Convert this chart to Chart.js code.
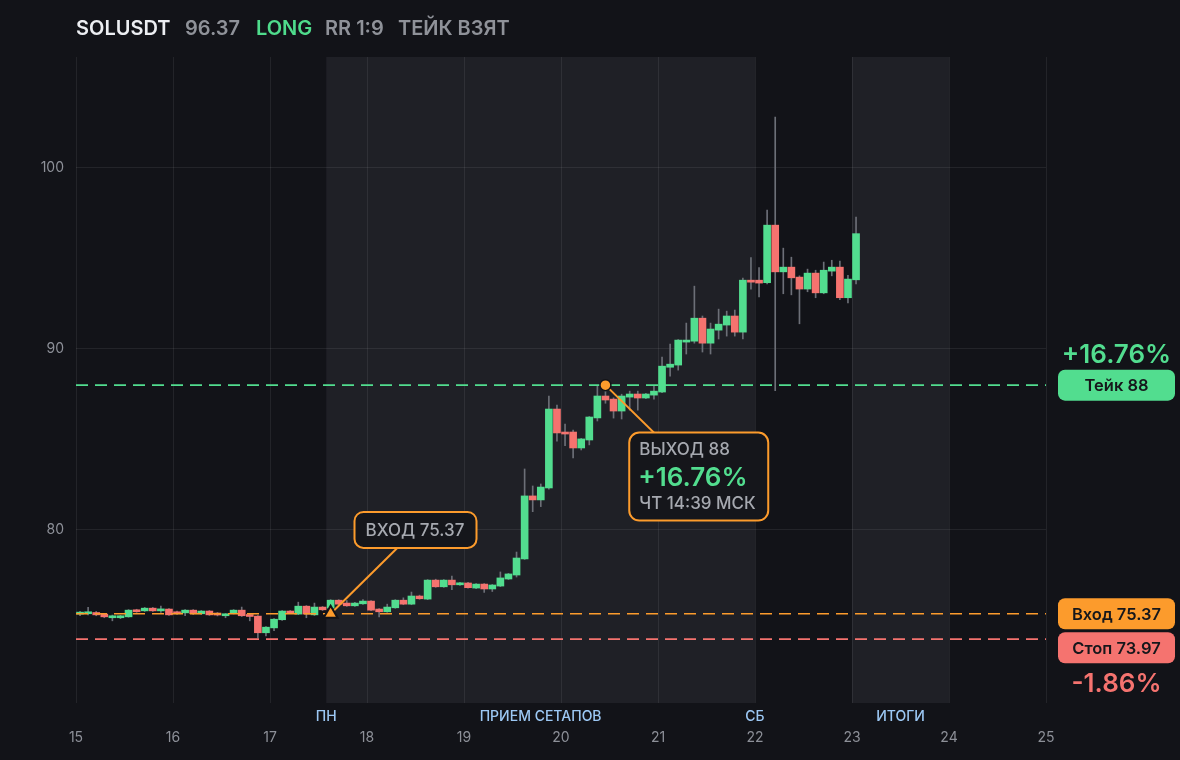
<!DOCTYPE html>
<html><head><meta charset="utf-8">
<script src="https://cdn.jsdelivr.net/npm/chart.js@4.4.1/dist/chart.umd.min.js"></script>
<style>
html,body{margin:0;padding:0;background:#121318;width:1180px;height:760px;overflow:hidden}
#wrap{position:relative;width:1180px;height:760px}
canvas{position:absolute;left:0;top:0}
.h{position:absolute;top:17px;line-height:22px;font-family:Inter,sans-serif;font-weight:600;font-size:20px;white-space:nowrap}
</style></head>
<body><div id="wrap"><canvas id="c" width="1180" height="760"></canvas><div id="hdr"></div></div>
<script>
// ---- header ----
const headerTexts = ['SOLUSDT','96.37','LONG','RR 1:9','ТЕЙК ВЗЯТ'];
const headerColors = ['#eceef2','#8f9299','#4fdc8c','#8f9299','#8f9299'];
const headerX = [76,185,256,325,398];

// ---- trade levels ----
const takePrice = 88, entryPrice = 75.37, stopPrice = 73.97;
const takePct = '+16.76%', stopPct = '-1.86%';
const entryTime = 17.625, exitTime = 20.458;
const entryBoxAt = {x:18.5, y:80};
const exitBoxAt = {x:21.42, y:82.95};

// ---- axis ----
const dayTicks = [15,16,17,18,19,20,21,22,23,24,25];
const yTicks = [80,90,100];
const bands = [[17.58,22],[23,24]];
const bandLabels = [['ПН',17.58],['ПРИЕМ СЕТАПОВ',19.79],['СБ',22],['ИТОГИ',23.5]];

// ---- candles (2h, starting day 15) ----
const startDay = 15, stepDays = 1/12;
const opens = [75.35,75.37,75.44,75.35,75.15,75.15,75.20,75.57,75.53,75.68,75.53,75.63,75.48,75.42,75.57,75.37,75.52,75.41,75.26,75.39,
75.57,75.31,75.24,74.32,74.59,75.04,75.52,75.35,75.79,75.31,75.74,75.68,76.12,75.96,75.81,75.92,76.07,75.63,75.48,75.70,
76.12,75.90,76.35,76.18,77.23,76.86,77.23,76.97,77.07,76.79,77.01,76.74,76.90,77.29,77.51,78.40,81.88,81.66,82.32,86.68,
85.41,85.41,84.53,84.97,86.19,87.40,87.23,86.57,87.34,87.51,87.29,87.45,87.62,88.99,89.11,90.38,90.43,91.70,90.32,91.04,
91.32,91.82,90.93,93.80,93.80,93.66,96.84,94.26,94.52,93.97,93.31,94.19,93.10,94.30,94.52,92.83,93.82];
const highs = [75.50,75.72,75.50,75.38,75.30,75.28,75.60,75.62,75.72,75.72,75.79,75.66,75.52,75.60,75.60,75.55,75.55,75.44,75.38,75.60,
75.74,75.34,75.27,74.66,75.10,75.55,75.55,76.01,75.82,75.96,75.77,76.15,76.15,76.10,76.00,76.15,76.10,75.66,75.90,76.15,
76.25,76.57,76.40,77.26,77.28,77.26,77.45,77.10,77.10,77.04,77.04,76.99,77.68,77.60,78.78,83.37,82.43,82.54,87.40,86.90,
85.85,85.52,85.06,86.27,87.95,88.00,87.30,87.50,87.67,87.67,87.55,87.95,89.55,90.27,90.52,91.43,93.47,91.82,91.43,92.20,
92.09,92.15,93.92,95.05,94.50,97.67,102.81,95.57,95.07,94.04,94.41,94.35,94.80,94.90,94.85,94.07,97.28];
const lows = [75.26,75.30,75.26,75.15,74.98,75.10,75.18,75.45,75.50,75.50,75.44,75.28,75.34,75.26,75.33,75.34,75.28,75.25,75.15,75.36,
75.22,74.98,74.04,74.15,74.43,75.00,75.38,75.32,75.15,75.28,75.55,75.60,75.87,75.78,75.78,75.89,75.54,75.20,75.45,75.67,
75.87,75.87,76.17,76.15,76.83,76.83,76.70,76.94,76.78,76.75,76.55,76.60,76.87,77.26,77.40,78.37,81.01,81.29,82.25,84.91,
84.66,83.98,84.42,84.70,86.02,87.00,86.18,86.13,86.62,86.62,87.25,87.23,87.58,88.50,88.83,89.72,90.32,89.83,89.72,90.55,
90.71,90.71,90.55,93.31,92.88,93.60,87.69,93.05,92.99,91.39,93.16,92.83,93.05,94.04,92.72,92.55,93.60];
const closes = [75.44,75.44,75.31,75.20,75.26,75.26,75.57,75.48,75.68,75.53,75.63,75.31,75.37,75.57,75.37,75.52,75.31,75.30,75.35,75.57,
75.26,75.22,74.32,74.63,75.07,75.52,75.41,75.79,75.35,75.74,75.59,76.12,75.90,75.81,75.96,76.07,75.57,75.48,75.74,76.12,
75.90,76.35,76.20,77.23,76.86,77.23,76.97,77.08,76.81,77.01,76.74,76.96,77.35,77.57,78.45,81.88,81.66,82.37,86.68,85.36,
85.30,84.53,85.03,86.24,87.40,87.18,86.57,87.40,87.51,87.29,87.51,87.67,89.05,89.16,90.49,90.49,91.70,90.32,91.10,91.37,
91.82,90.93,93.80,93.69,93.64,96.84,94.26,94.52,93.93,93.31,94.19,93.10,94.35,94.52,92.83,93.86,96.37];

const GREEN = '#52dd8f', RED = '#f5736f', ORANGE = '#fc9b2c', BG = '#121318', BAND = '#1f2026';
const GRID = 'rgba(255,255,255,0.075)';
const FONT = 'Inter, "Noto Sans", sans-serif';

// header
const hdr = document.getElementById('hdr');
headerTexts.forEach((t,i)=>{const s=document.createElement('span');s.className='h';s.textContent=t;s.style.left=headerX[i]+'px';s.style.color=headerColors[i];hdr.appendChild(s);});

const times = opens.map((_,i)=> startDay + (i+0.5)*stepDays);
const wickData = times.map((t,i)=>({x:t, y:[lows[i], highs[i]]}));
const bodyData = times.map((t,i)=>({x:t, y:[opens[i], closes[i]]}));
const bodyColors = opens.map((o,i)=> closes[i] >= o ? GREEN : RED);

function hline(v,color){
  return {type:'line', data:[{x:dayTicks[0],y:v},{x:dayTicks[dayTicks.length-1],y:v}], borderColor:color, borderWidth:1.6,
    borderDash:[12,7], pointRadius:0, order:3};
}

function rr(ctx,x,y,w,h,r){ctx.beginPath();ctx.moveTo(x+r,y);ctx.arcTo(x+w,y,x+w,y+h,r);ctx.arcTo(x+w,y+h,x,y+h,r);ctx.arcTo(x,y+h,x,y,r);ctx.arcTo(x,y,x+w,y,r);ctx.closePath();}

const bgPlugin = {id:'bg', beforeDraw(chart){
  const {ctx, chartArea:a, scales:{x}} = chart;
  ctx.save(); ctx.fillStyle = BG; ctx.fillRect(0,0,chart.width,chart.height);
  ctx.fillStyle = BAND;
  bands.forEach(([s,e])=>{const x1=x.getPixelForValue(s), x2=x.getPixelForValue(e); ctx.fillRect(x1,a.top,x2-x1,a.bottom-a.top);});
  ctx.restore();
}};

const boxPlugin = {id:'boxes', afterDatasetsDraw(chart){
  const {ctx, scales:{x,y}} = chart;
  ctx.save();
  // entry box
  let cx = x.getPixelForValue(entryBoxAt.x), cy = y.getPixelForValue(entryBoxAt.y);
  let w=122,h=36, bx=cx-w/2, by=cy-h/2;
  rr(ctx,bx,by,w,h,9); ctx.fillStyle='#15161b'; ctx.fill(); ctx.lineWidth=2; ctx.strokeStyle=ORANGE; ctx.stroke();
  ctx.fillStyle='#a6a9b0'; ctx.font='500 17px '+FONT; ctx.textBaseline='middle'; ctx.textAlign='left';
  ctx.fillText('ВХОД '+entryPrice.toFixed(2), bx+11, cy+1);
  // exit box
  cx = x.getPixelForValue(exitBoxAt.x); cy = y.getPixelForValue(exitBoxAt.y);
  w=139; h=88; bx=cx-w/2; by=cy-h/2;
  rr(ctx,bx,by,w,h,10); ctx.fillStyle='#15161b'; ctx.fill(); ctx.lineWidth=2; ctx.strokeStyle=ORANGE; ctx.stroke();
  ctx.fillStyle='#a6a9b0'; ctx.font='500 17px '+FONT;
  ctx.fillText('ВЫХОД '+takePrice, bx+10, by+17);
  ctx.fillStyle=GREEN; ctx.font='600 26px '+FONT;
  ctx.fillText(takePct, bx+9, by+46);
  ctx.fillStyle='#a6a9b0'; ctx.font='500 17px '+FONT;
  ctx.fillText('ЧТ 14:39 МСК', bx+10, by+71);
  ctx.restore();
}};

const labelPlugin = {id:'labels', afterDraw(chart){
  const {ctx, chartArea:a, scales:{x,y}} = chart;
  ctx.save();
  ctx.textAlign='center'; ctx.textBaseline='middle';
  ctx.font='500 14px '+FONT; ctx.fillStyle='#9cc8f4';
  bandLabels.forEach(([t,v])=> ctx.fillText(t, x.getPixelForValue(v), a.bottom+14));
  // right pills
  const px=1058, pw=117, ph=31, pcx=px+pw/2;
  const takeY = y.getPixelForValue(takePrice), entY = y.getPixelForValue(entryPrice);
  let stopTop = Math.max(y.getPixelForValue(stopPrice)-ph/2, entY+ph/2+3);
  const pills = [[takeY-ph/2, GREEN, 'Тейк '+takePrice],[entY-ph/2, ORANGE, 'Вход '+entryPrice.toFixed(2)],[stopTop, RED, 'Стоп '+stopPrice.toFixed(2)]];
  pills.forEach(([t,c,txt])=>{ rr(ctx,px,t,pw,ph,7); ctx.fillStyle=c; ctx.fill();
    ctx.fillStyle='#16171b'; ctx.font='600 16.5px '+FONT; ctx.fillText(txt, pcx, t+ph/2+1); });
  ctx.font='600 26px '+FONT;
  ctx.fillStyle=GREEN; ctx.fillText(takePct, pcx, takeY-ph/2-14);
  ctx.fillStyle=RED; ctx.fillText(stopPct, pcx, stopTop+ph+21);
  ctx.restore();
}};

new Chart(document.getElementById('c'), {
  type:'bar',
  data:{datasets:[
    {label:'wicks', data:wickData, backgroundColor:'#6c6f77', barThickness:1, grouped:false, order:5},
    {label:'bodies', data:bodyData, backgroundColor:bodyColors, barThickness:7, minBarLength:2, grouped:false, order:4},
    hline(takePrice, GREEN), hline(entryPrice, ORANGE), hline(stopPrice, RED),
    {type:'line', data:[{x:entryTime,y:entryPrice},{x:entryBoxAt.x,y:entryBoxAt.y}], borderColor:ORANGE, borderWidth:2, pointRadius:0, order:2},
    {type:'line', data:[{x:exitTime,y:takePrice},{x:exitBoxAt.x,y:exitBoxAt.y}], borderColor:ORANGE, borderWidth:2, pointRadius:0, order:2},
    {type:'line', data:[{x:entryTime,y:entryPrice}], showLine:false, pointStyle:'triangle', pointRadius:8, backgroundColor:ORANGE, borderColor:BG, borderWidth:2, order:1},
    {type:'line', data:[{x:exitTime,y:takePrice}], showLine:false, pointStyle:'circle', pointRadius:5.5, backgroundColor:ORANGE, borderColor:BG, borderWidth:1.5, order:1}
  ]},
  options:{
    responsive:false, animation:false, devicePixelRatio:1,
    layout:{padding:{left:0,top:57,right:134,bottom:0}},
    plugins:{legend:{display:false}, tooltip:{enabled:false}},
    scales:{
      x:{type:'linear', min:dayTicks[0], max:dayTicks[dayTicks.length-1], offset:false,
        afterFit(s){s.height=57;},
        afterBuildTicks(s){s.ticks=dayTicks.map(v=>({value:v}));},
        grid:{color:GRID, drawTicks:false, offset:false}, border:{display:false},
        ticks:{autoSkip:false, maxRotation:0, padding:26, color:'#8d9098', font:{family:FONT,size:14}, callback:v=>String(v)}},
      y:{type:'linear', min:70.44, max:106.13,
        afterFit(s){s.width=76;},
        afterBuildTicks(s){s.ticks=yTicks.map(v=>({value:v}));},
        grid:{color:GRID, drawTicks:false}, border:{display:false},
        ticks:{padding:12, color:'#8d9098', font:{family:FONT,size:14}, callback:v=>String(v)}}
    }
  },
  plugins:[bgPlugin, boxPlugin, labelPlugin]
});
</script></body></html>
